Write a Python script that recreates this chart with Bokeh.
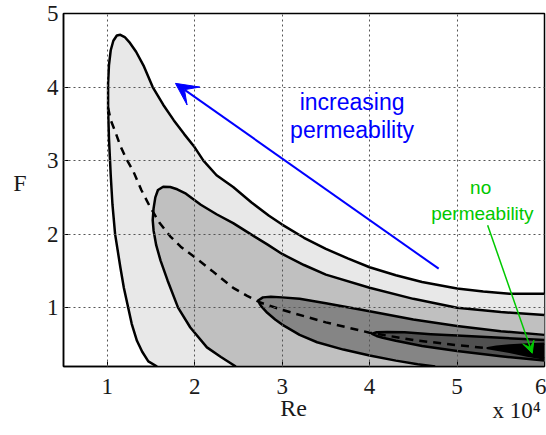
from bokeh.plotting import figure
from bokeh.models import Range1d, FixedTicker, Label, Arrow, VeeHead, LinearAxis
from bokeh.embed import file_html
from bokeh.resources import INLINE

# ---- data (Re in units of 1e4, F) ----
x_ticks = [1, 2, 3, 4, 5, 6]
y_ticks = [1, 2, 3, 4, 5]
x_lo, x_hi = 0.5, 6.0
y_lo, y_hi = 0.2, 5.0

# outer contour (level 1)
c1_x = [1.57, 1.47, 1.40, 1.34, 1.28, 1.24, 1.19, 1.15, 1.09, 1.06, 1.04, 1.02, 1.01, 1.01, 1.02, 1.04,
        1.07, 1.11, 1.15, 1.20, 1.26, 1.33, 1.42, 1.52, 1.64, 1.76, 1.88, 2.00, 2.10, 2.25, 2.44, 2.65,
        2.85, 3.00, 3.25, 3.50, 3.75, 4.00, 4.30, 4.60, 5.00, 5.30, 5.60, 6.00]
c1_y = [0.20, 0.27, 0.40, 0.55, 0.78, 1.00, 1.27, 1.55, 2.00, 2.40, 2.80, 3.30, 3.70, 4.05, 4.30, 4.50,
        4.63, 4.70, 4.71, 4.68, 4.60, 4.48, 4.28, 4.00, 3.76, 3.55, 3.36, 3.18, 3.00, 2.80, 2.64, 2.43,
        2.25, 2.13, 1.95, 1.80, 1.67, 1.55, 1.44, 1.35, 1.26, 1.22, 1.19, 1.19]

# second contour (level 2)
c2_x = [2.47, 2.30, 2.14, 1.95, 1.81, 1.69, 1.61, 1.56, 1.53, 1.52, 1.53, 1.55, 1.58, 1.64, 1.72, 1.80,
        1.90, 2.07, 2.25, 2.44, 2.64, 2.83, 3.00, 3.25, 3.50, 4.00, 4.50, 5.00, 5.50, 6.00]
c2_y = [0.20, 0.33, 0.46, 0.73, 1.00, 1.37, 1.64, 1.85, 2.05, 2.19, 2.35, 2.50, 2.60, 2.645, 2.64, 2.61,
        2.55, 2.40, 2.27, 2.15, 2.00, 1.86, 1.73, 1.58, 1.45, 1.27, 1.12, 1.00, 0.94, 0.90]

# third contour (level 3): upper branch from right edge to tip, then lower branch
c3_x = [6.00, 5.50, 5.00, 4.50, 4.00, 3.50, 3.20, 3.00, 2.87, 2.78, 2.73, 2.74, 2.76, 2.83, 2.92, 3.00,
        3.20, 3.40, 3.70, 4.00, 4.30, 4.55, 4.75]
c3_y = [0.63, 0.68, 0.75, 0.84, 0.95, 1.06, 1.12, 1.14, 1.15, 1.14, 1.10, 1.06, 1.02, 0.93, 0.84, 0.77,
        0.63, 0.53, 0.43, 0.35, 0.28, 0.23, 0.20]

# fourth contour (level 4)
c4_x = [6.00, 5.50, 5.00, 4.70, 4.40, 4.20, 4.08, 4.03, 4.08, 4.15, 4.30, 4.60, 5.00, 5.50, 6.00]
c4_y = [0.56, 0.59, 0.62, 0.64, 0.665, 0.67, 0.665, 0.645, 0.615, 0.59, 0.55, 0.48, 0.41, 0.34, 0.28]

# innermost contour (level 5)
c5_x = [6.00, 5.80, 5.60, 5.45, 5.35, 5.45, 5.60, 5.80, 6.00]
c5_y = [0.51, 0.50, 0.485, 0.47, 0.45, 0.43, 0.40, 0.35, 0.31]

# dashed ridge line
ridge_x = [1.01, 1.04, 1.09, 1.15, 1.22, 1.30, 1.39, 1.49, 1.60, 1.72, 1.84, 2.03, 2.20, 2.44, 2.60,
           2.75, 3.00, 3.50, 4.00, 4.50, 5.00, 5.35]
ridge_y = [3.72, 3.55, 3.40, 3.20, 3.02, 2.85, 2.60, 2.37, 2.15, 1.97, 1.83, 1.66, 1.50, 1.27, 1.16,
           1.07, 0.97, 0.80, 0.66, 0.56, 0.49, 0.45]

fills = ["#e8e8e8", "#c0c0c0", "#858585", "#505050", "#000000"]

# axis-label texts and their anchor values
x_label, x_label_at = "Re", 3.13
y_label, y_label_at = "F", 2.69
x_scale_label, x_scale_at = "x 10\u2074", 5.68

serif = "Liberation Serif"
txt = "#1a1a1a"

p = figure(width=546, height=435, x_range=Range1d(x_lo, x_hi), y_range=Range1d(y_lo, y_hi),
           output_backend="svg", toolbar_location=None,
           min_border_left=63, min_border_right=2, min_border_top=13, min_border_bottom=69)
p.background_fill_color = "white"
p.border_fill_color = "white"
p.outline_line_color = "black"
p.outline_line_width = 1.5

# filled regions
p.patch(c1_x + [x_hi], c1_y + [y_lo], fill_color=fills[0], line_alpha=0)
p.patch(c2_x + [x_hi], c2_y + [y_lo], fill_color=fills[1], line_alpha=0)
p.patch(c3_x + [x_hi], c3_y + [y_lo], fill_color=fills[2], line_alpha=0)
p.patch(c4_x, c4_y, fill_color=fills[3], line_alpha=0)
p.patch(c5_x, c5_y, fill_color=fills[4], line_alpha=0)

for cx, cy in [(c1_x, c1_y), (c2_x, c2_y), (c3_x, c3_y), (c4_x, c4_y), (c5_x, c5_y)]:
    p.line(cx, cy, line_color="black", line_width=2.5, line_join="round")

p.line(ridge_x, ridge_y, line_color="black", line_width=2.5, line_dash="8 6")

# main axes
xa = p.xaxis[0]
ya = p.yaxis[0]
for ax in [xa, ya]:
    ax.major_label_text_font = serif
    ax.major_label_text_font_size = "23px"
    ax.major_label_text_color = txt
    ax.major_tick_in = 5
    ax.major_tick_out = 0
    ax.minor_tick_in = 0
    ax.minor_tick_out = 0
    ax.axis_line_color = "black"
    ax.axis_line_width = 1.5
    ax.major_tick_line_color = "black"
xa.ticker = FixedTicker(ticks=x_ticks)
ya.ticker = FixedTicker(ticks=y_ticks)
xa.major_label_standoff = 12
ya.major_label_standoff = 5

for g in [p.xgrid[0], p.ygrid[0]]:
    g.grid_line_color = "#555555"
    g.grid_line_dash = "2 3"
    g.grid_line_width = 1
    g.level = "guide"
p.xgrid[0].ticker = FixedTicker(ticks=x_ticks)
p.ygrid[0].ticker = FixedTicker(ticks=y_ticks)


def label_axis(at, text, size, standoff):
    a = LinearAxis(ticker=FixedTicker(ticks=[at]), major_label_overrides={at: text})
    a.axis_line_color = None
    a.major_tick_line_color = None
    a.minor_tick_line_color = None
    a.major_tick_in = 0
    a.major_tick_out = 0
    a.minor_tick_in = 0
    a.minor_tick_out = 0
    a.major_label_text_font = serif
    a.major_label_text_font_size = size
    a.major_label_text_color = txt
    a.major_label_standoff = standoff
    return a


p.add_layout(label_axis(x_label_at, x_label, "24px", -2), "below")
p.add_layout(label_axis(x_scale_at, x_scale_label, "23px", -26), "below")
p.add_layout(label_axis(y_label_at, y_label, "24px", 17), "left")

# annotations
blue = "#0000ff"
green = "#00c800"
p.add_layout(Arrow(end=VeeHead(size=22, fill_color=blue, line_color=blue),
                   x_start=4.79, y_start=1.53, x_end=1.78, y_end=4.05,
                   line_color=blue, line_width=2))
p.add_layout(Arrow(end=VeeHead(size=12, fill_color=green, line_color=green),
                   x_start=5.35, y_start=2.12, x_end=5.86, y_end=0.38,
                   line_color=green, line_width=1.5))
p.add_layout(Label(x=3.80, y=3.80, text="increasing", text_font="Liberation Sans", text_font_size="23px",
                   text_align="center", text_baseline="middle", text_color=blue))
p.add_layout(Label(x=3.80, y=3.41, text="permeability", text_font="Liberation Sans", text_font_size="23px",
                   text_align="center", text_baseline="middle", text_color=blue))
p.add_layout(Label(x=5.27, y=2.64, text="no", text_font="Liberation Sans", text_font_size="19px",
                   text_align="center", text_baseline="middle", text_color=green))
p.add_layout(Label(x=5.29, y=2.28, text="permeability", text_font="Liberation Sans", text_font_size="19px",
                   text_align="center", text_baseline="middle", text_color=green))

open("out.html", "w").write(file_html(p, INLINE))
